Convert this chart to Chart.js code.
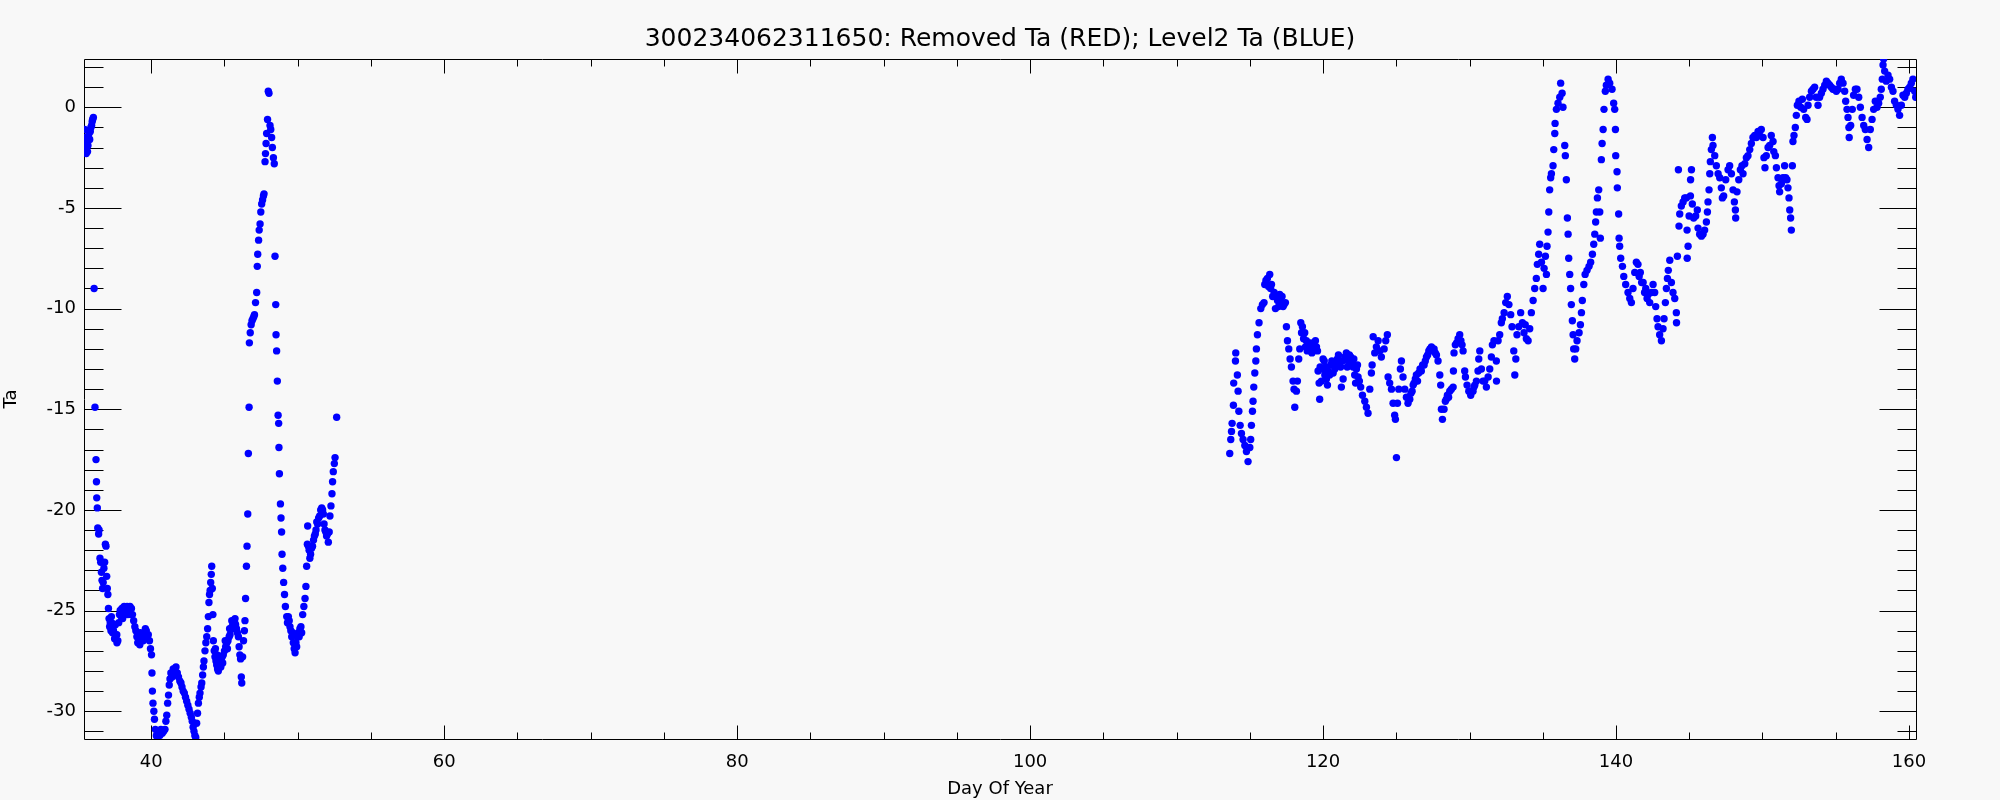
<!DOCTYPE html>
<html>
<head>
<meta charset="utf-8">
<script src="https://cdn.jsdelivr.net/npm/chart.js@4.4.1/dist/chart.umd.min.js"></script>
<style>
  html, body { margin: 0; padding: 0; background: #f8f8f8; }
  canvas { display: block; }
</style>
</head>
<body>
<canvas id="taChart" width="2000" height="800"></canvas>
<script>
// Level2 Ta readings, [day of year, Ta]
const level2Early = [
  [35.45,-1.1],[35.48,-1.8],[35.5,-2.1],[35.53,-1.5],[35.56,-2.3],[35.59,-2.0],[35.62,-1.6],[35.65,-2.2],
  [35.68,-1.9],[35.72,-1.5],[35.75,-1.3],[35.8,-1.6],[35.84,-1.2],[35.88,-1.0],[35.93,-0.9],[35.97,-0.7],
  [36.0,-0.6],[36.05,-0.5],[36.1,-9.0],[36.16,-14.9],[36.23,-17.5],[36.26,-18.6],[36.28,-19.4],[36.32,-19.9],
  [36.35,-20.9],[36.41,-21.2],[36.44,-21.0],[36.5,-22.4],[36.55,-22.6],[36.6,-23.1],[36.64,-23.5],[36.68,-23.9],
  [36.72,-23.6],[36.77,-22.9],[36.82,-22.6],[36.87,-21.7],[36.91,-21.8],[36.96,-23.3],[37.0,-23.9],[37.04,-24.2],
  [37.08,-24.9],[37.12,-25.4],[37.16,-25.8],[37.2,-25.6],[37.25,-26.0],[37.28,-25.3],[37.3,-25.6],[37.36,-26.1],
  [37.4,-25.8],[37.42,-26.0],[37.5,-26.4],[37.55,-25.7],[37.58,-26.2],[37.65,-26.2],[37.66,-26.6],[37.72,-26.5],
  [37.78,-25.6],[37.83,-25.2],[37.88,-25.0],[37.95,-25.3],[38.0,-24.9],[38.05,-25.4],[38.08,-25.1],[38.15,-24.8],
  [38.2,-25.2],[38.25,-25.0],[38.3,-25.1],[38.35,-24.8],[38.4,-25.2],[38.45,-24.9],[38.5,-25.0],[38.55,-24.8],
  [38.6,-25.2],[38.65,-24.9],[38.72,-25.2],[38.8,-25.5],[38.88,-25.8],[38.95,-26.0],[39.02,-26.3],[39.08,-26.6],
  [39.12,-26.2],[39.15,-26.4],[39.22,-26.7],[39.26,-26.1],[39.3,-26.4],[39.38,-26.2],[39.45,-26.5],[39.52,-26.1],
  [39.6,-25.9],[39.66,-26.0],[39.72,-26.3],[39.8,-26.2],[39.88,-26.5],[39.95,-26.9],[40.02,-27.2],[40.05,-28.1],
  [40.08,-29.0],[40.12,-29.6],[40.18,-30.0],[40.22,-30.4],[40.28,-30.9],[40.35,-31.2],[40.42,-31.3],[40.5,-31.0],
  [40.58,-31.2],[40.66,-30.9],[40.75,-31.1],[40.85,-31.0],[40.94,-30.9],[41.0,-30.5],[41.06,-30.2],[41.12,-29.6],
  [41.18,-29.2],[41.23,-28.7],[41.28,-28.4],[41.34,-28.1],[41.42,-28.3],[41.5,-27.9],[41.6,-27.9],[41.69,-27.8],
  [41.78,-28.1],[41.86,-28.3],[41.95,-28.5],[42.03,-28.6],[42.1,-28.8],[42.18,-29.0],[42.26,-29.1],[42.34,-29.3],
  [42.42,-29.5],[42.5,-29.7],[42.58,-29.9],[42.66,-30.1],[42.74,-30.3],[42.8,-30.5],[42.86,-30.8],[42.92,-31.0],
  [42.98,-31.2],[43.04,-31.3],[43.1,-30.6],[43.16,-30.1],[43.22,-29.6],[43.28,-29.3],[43.33,-29.1],[43.4,-28.8],
  [43.45,-28.6],[43.51,-28.2],[43.56,-27.8],[43.6,-27.5],[43.67,-27.0],[43.73,-26.6],[43.79,-26.3],[43.85,-25.9],
  [43.9,-25.3],[43.94,-24.6],[43.98,-24.2],[44.02,-24.0],[44.06,-23.6],[44.1,-23.2],[44.13,-22.8],[44.17,-23.9],
  [44.21,-25.2],[44.24,-26.5],[44.3,-27.0],[44.35,-27.3],[44.38,-26.9],[44.42,-27.5],[44.47,-27.7],[44.5,-27.2],
  [44.53,-27.9],[44.58,-28.0],[44.6,-27.5],[44.64,-27.7],[44.7,-27.6],[44.75,-27.8],[44.78,-27.4],[44.85,-27.3],
  [44.88,-27.6],[44.92,-27.2],[45.0,-27.0],[45.05,-26.5],[45.08,-26.8],[45.16,-26.6],[45.2,-26.9],[45.24,-26.5],
  [45.32,-26.3],[45.35,-25.9],[45.38,-26.2],[45.45,-25.9],[45.5,-25.5],[45.52,-25.8],[45.58,-25.6],[45.62,-25.9],
  [45.64,-25.5],[45.7,-25.6],[45.72,-25.4],[45.76,-25.7],[45.82,-25.9],[45.88,-26.1],[45.95,-26.3],[46.0,-26.8],
  [46.05,-27.2],[46.1,-27.4],[46.15,-28.3],[46.18,-28.6],[46.24,-27.3],[46.3,-26.5],[46.36,-26.0],[46.4,-25.5],
  [46.44,-24.4],[46.5,-22.8],[46.54,-21.8],[46.59,-20.2],[46.63,-17.2],[46.68,-14.9],[46.7,-11.7],[46.76,-11.2],
  [46.82,-10.8],[46.88,-10.6],[46.94,-10.5],[47.0,-10.4],[47.05,-10.3],[47.12,-9.7],[47.2,-9.2],[47.24,-7.9],
  [47.27,-7.3],[47.33,-6.6],[47.37,-6.1],[47.43,-5.8],[47.48,-5.2],[47.54,-4.8],[47.6,-4.6],[47.66,-4.4],
  [47.7,-4.3],[47.77,-2.7],[47.8,-2.3],[47.84,-1.8],[47.88,-1.3],[47.94,-0.6],[47.99,0.8],[48.04,0.7],
  [48.11,-0.9],[48.16,-1.1],[48.22,-1.5],[48.27,-2.0],[48.34,-2.5],[48.4,-2.8],[48.45,-7.4],[48.5,-9.8],
  [48.52,-11.3],[48.56,-12.1],[48.61,-13.6],[48.66,-15.3],[48.7,-15.7],[48.72,-16.9],[48.75,-18.2],[48.82,-19.7],
  [48.86,-20.4],[48.9,-21.1],[48.93,-22.2],[48.98,-22.9],[49.04,-23.6],[49.1,-24.2],[49.16,-24.8],[49.25,-25.3],
  [49.3,-25.6],[49.36,-25.3],[49.42,-25.5],[49.47,-25.8],[49.53,-26.0],[49.59,-26.3],[49.65,-26.1],[49.7,-26.6],
  [49.76,-26.9],[49.82,-27.1],[49.88,-26.6],[49.93,-26.8],[49.98,-26.3],[50.04,-26.1],[50.1,-26.3],[50.15,-25.9],
  [50.22,-25.8],[50.27,-26.1],[50.34,-25.2],[50.42,-24.8],[50.5,-24.4],[50.56,-23.8],[50.61,-22.8],[50.66,-21.7],
  [50.68,-20.8],[50.73,-21.8],[50.78,-22.0],[50.83,-22.4],[50.88,-22.2],[50.95,-21.9],[51.01,-21.8],[51.08,-21.5],
  [51.14,-21.3],[51.2,-21.2],[51.25,-21.0],[51.3,-20.6],[51.36,-20.7],[51.43,-20.4],[51.5,-20.3],[51.57,-20.0],
  [51.64,-19.9],[51.7,-20.0],[51.75,-20.2],[51.8,-20.7],[51.86,-21.0],[51.92,-21.1],[51.97,-21.3],[52.03,-21.2],
  [52.09,-21.6],[52.15,-21.1],[52.2,-20.3],[52.27,-19.8],[52.34,-19.2],[52.38,-18.6],[52.43,-18.1],[52.5,-17.7],
  [52.55,-17.4],[52.66,-15.4]
];

const level2Late = [
  [113.63,-17.2],[113.7,-16.5],[113.75,-16.1],[113.79,-15.7],[113.88,-14.8],[113.9,-13.7],[114.02,-12.6],[114.04,-12.2],
  [114.15,-13.3],[114.2,-14.1],[114.25,-15.1],[114.34,-15.8],[114.43,-16.2],[114.54,-16.5],[114.66,-16.8],[114.77,-17.1],
  [114.88,-17.6],[115.0,-16.9],[115.06,-16.5],[115.11,-15.8],[115.18,-15.1],[115.22,-14.6],[115.27,-13.9],[115.34,-13.2],
  [115.41,-12.6],[115.45,-12.0],[115.52,-11.3],[115.63,-10.7],[115.75,-10.0],[115.86,-9.8],[115.97,-9.7],[116.02,-8.8],
  [116.1,-8.6],[116.2,-8.5],[116.28,-8.9],[116.36,-8.3],[116.42,-9.0],[116.48,-8.8],[116.56,-9.4],[116.66,-9.2],
  [116.75,-10.0],[116.82,-9.4],[116.89,-9.6],[116.96,-9.9],[117.04,-9.3],[117.12,-9.7],[117.2,-9.4],[117.27,-9.9],
  [117.34,-9.8],[117.43,-9.7],[117.5,-10.9],[117.57,-11.6],[117.66,-12.0],[117.75,-12.5],[117.84,-12.9],[117.95,-13.6],
  [118.02,-14.0],[118.07,-14.9],[118.18,-14.1],[118.25,-13.6],[118.34,-12.5],[118.41,-12.0],[118.48,-10.7],[118.53,-11.2],
  [118.59,-10.9],[118.67,-11.5],[118.75,-11.2],[118.8,-11.9],[118.86,-11.6],[118.92,-12.1],[118.98,-11.8],[119.07,-11.9],
  [119.16,-11.7],[119.24,-12.2],[119.32,-11.9],[119.4,-12.0],[119.48,-11.6],[119.55,-11.9],[119.62,-12.1],[119.66,-13.1],
  [119.73,-13.7],[119.77,-14.5],[119.8,-12.9],[119.89,-13.6],[119.95,-13.0],[120.0,-12.5],[120.08,-12.6],[120.12,-13.3],
  [120.18,-12.9],[120.23,-13.5],[120.3,-13.8],[120.34,-13.1],[120.45,-13.3],[120.53,-12.8],[120.6,-12.6],[120.69,-13.2],
  [120.75,-12.7],[120.8,-13.0],[120.9,-12.8],[120.98,-12.5],[121.05,-12.3],[121.14,-12.7],[121.2,-12.9],[121.25,-13.9],
  [121.32,-12.6],[121.37,-13.5],[121.48,-12.4],[121.59,-12.2],[121.65,-12.9],[121.71,-12.6],[121.8,-12.3],[121.89,-12.4],
  [121.95,-12.7],[122.05,-12.9],[122.1,-12.5],[122.16,-13.3],[122.22,-13.7],[122.28,-13.0],[122.35,-12.8],[122.39,-13.4],
  [122.48,-13.6],[122.57,-13.9],[122.69,-14.3],[122.85,-14.6],[122.96,-14.9],[123.07,-15.2],[123.19,-14.0],[123.3,-13.2],
  [123.35,-12.8],[123.42,-11.4],[123.53,-12.2],[123.64,-11.9],[123.76,-11.6],[123.87,-12.1],[123.98,-12.4],[124.17,-12.0],
  [124.28,-11.6],[124.39,-11.3],[124.44,-13.4],[124.55,-13.7],[124.67,-14.0],[124.78,-14.7],[124.89,-15.3],[124.94,-15.5],
  [125.01,-17.4],[125.08,-14.7],[125.17,-14.0],[125.28,-13.0],[125.35,-12.6],[125.46,-13.4],[125.58,-14.0],[125.69,-14.4],
  [125.8,-14.7],[125.92,-14.5],[126.0,-14.2],[126.08,-14.1],[126.15,-13.8],[126.21,-13.7],[126.3,-13.5],[126.37,-13.3],
  [126.45,-13.6],[126.53,-13.2],[126.62,-13.0],[126.71,-13.1],[126.8,-12.8],[126.9,-12.8],[126.98,-12.6],[127.06,-12.4],
  [127.14,-12.3],[127.22,-12.1],[127.3,-12.0],[127.4,-11.9],[127.5,-12.1],[127.58,-12.0],[127.66,-12.2],[127.74,-12.3],
  [127.85,-12.6],[127.97,-13.3],[128.03,-13.8],[128.08,-15.0],[128.15,-15.5],[128.26,-15.0],[128.35,-14.6],[128.42,-14.5],
  [128.49,-14.3],[128.57,-14.4],[128.65,-14.1],[128.76,-14.0],[128.88,-13.9],[128.9,-13.1],[128.94,-12.2],[129.03,-11.8],
  [129.12,-11.7],[129.22,-11.5],[129.33,-11.3],[129.41,-11.6],[129.49,-11.8],[129.56,-12.1],[129.67,-13.1],[129.72,-13.4],
  [129.83,-13.8],[129.95,-14.1],[130.08,-14.3],[130.16,-14.1],[130.24,-14.1],[130.3,-13.9],[130.36,-13.8],[130.47,-13.6],
  [130.58,-13.1],[130.63,-12.5],[130.7,-12.1],[130.81,-13.0],[130.92,-13.6],[131.04,-13.6],[131.15,-13.9],[131.27,-13.4],
  [131.38,-13.0],[131.49,-12.4],[131.56,-11.8],[131.67,-11.6],[131.83,-12.6],[131.84,-13.6],[131.95,-11.6],[132.06,-11.3],
  [132.17,-10.7],[132.24,-10.5],[132.36,-10.2],[132.47,-9.7],[132.58,-9.4],[132.69,-9.8],[132.81,-10.3],[132.9,-10.9],
  [133.02,-12.1],[133.09,-13.3],[133.16,-12.5],[133.24,-11.3],[133.36,-10.9],[133.49,-10.2],[133.61,-10.7],[133.72,-11.2],
  [133.8,-10.8],[133.88,-11.5],[134.0,-11.6],[134.11,-11.0],[134.22,-10.2],[134.34,-9.6],[134.45,-9.0],[134.56,-8.5],
  [134.63,-7.8],[134.72,-7.3],[134.79,-6.8],[134.91,-7.7],[135.02,-9.0],[135.09,-8.0],[135.18,-7.4],[135.25,-8.3],
  [135.29,-6.9],[135.36,-6.2],[135.41,-5.2],[135.47,-4.1],[135.54,-3.5],[135.59,-3.3],[135.7,-2.9],[135.75,-2.1],
  [135.82,-1.3],[135.84,-0.8],[135.93,-0.1],[136.04,0.2],[136.16,0.5],[136.22,1.2],[136.32,0.7],[136.38,0.0],
  [136.5,-1.9],[136.54,-2.4],[136.61,-3.6],[136.68,-5.5],[136.73,-6.3],[136.77,-7.5],[136.84,-8.3],[136.9,-9.0],
  [136.95,-9.8],[137.02,-10.6],[137.07,-11.3],[137.11,-12.0],[137.18,-12.5],[137.25,-12.0],[137.34,-11.6],[137.48,-11.2],
  [137.57,-10.8],[137.64,-10.2],[137.7,-9.6],[137.8,-8.8],[137.89,-8.3],[138.02,-8.1],[138.16,-7.9],[138.27,-7.7],
  [138.39,-7.3],[138.48,-6.8],[138.55,-6.3],[138.61,-5.7],[138.66,-5.2],[138.73,-4.5],[138.82,-4.1],[138.89,-5.2],
  [138.93,-6.5],[139.0,-2.6],[139.05,-1.8],[139.12,-1.1],[139.18,-0.1],[139.27,0.8],[139.34,1.1],[139.46,1.4],
  [139.57,1.2],[139.73,0.9],[139.84,0.2],[139.91,-0.1],[139.96,-1.1],[139.98,-2.4],[140.07,-3.2],[140.09,-4.0],
  [140.18,-5.3],[140.21,-6.5],[140.25,-6.9],[140.32,-7.5],[140.44,-7.9],[140.53,-8.4],[140.66,-8.8],[140.82,-9.2],
  [140.94,-9.5],[141.05,-9.7],[141.16,-9.0],[141.28,-8.2],[141.39,-7.7],[141.5,-7.8],[141.58,-8.4],[141.66,-8.2],
  [141.75,-8.7],[141.85,-8.7],[141.95,-9.2],[142.03,-9.0],[142.12,-9.5],[142.19,-9.3],[142.3,-9.7],[142.41,-9.2],
  [142.53,-8.8],[142.64,-9.2],[142.71,-9.9],[142.8,-10.5],[142.87,-10.9],[142.98,-11.3],[143.1,-11.6],[143.21,-11.0],
  [143.28,-10.5],[143.37,-9.7],[143.44,-9.0],[143.51,-8.5],[143.57,-8.1],[143.67,-7.6],[143.78,-8.7],[143.89,-9.2],
  [144.01,-9.5],[144.12,-10.2],[144.13,-10.7],[144.19,-7.4],[144.26,-3.1],[144.3,-5.9],[144.35,-5.3],[144.46,-4.9],
  [144.58,-4.7],[144.69,-4.5],[144.8,-4.5],[144.85,-6.1],[144.86,-7.5],[144.92,-6.9],[144.99,-5.4],[145.08,-4.4],
  [145.09,-3.6],[145.15,-3.1],[145.21,-4.8],[145.3,-5.5],[145.44,-5.4],[145.55,-5.1],[145.6,-6.0],[145.71,-6.3],
  [145.83,-6.4],[145.94,-6.3],[146.05,-6.1],[146.17,-5.7],[146.24,-5.2],[146.28,-4.7],[146.35,-4.1],[146.4,-3.3],
  [146.44,-2.7],[146.51,-2.1],[146.58,-1.5],[146.62,-1.9],[146.74,-2.4],[146.85,-2.9],[146.97,-3.3],[147.08,-3.5],
  [147.19,-4.0],[147.26,-4.5],[147.35,-4.4],[147.49,-3.6],[147.65,-3.1],[147.76,-2.9],[147.88,-3.3],[147.99,-4.1],
  [148.08,-4.7],[148.15,-5.1],[148.17,-5.5],[148.26,-4.2],[148.38,-3.6],[148.49,-3.1],[148.6,-2.9],[148.67,-3.3],
  [148.79,-2.8],[148.9,-2.5],[149.01,-2.4],[149.13,-2.1],[149.24,-1.8],[149.35,-1.5],[149.47,-1.4],[149.58,-1.5],
  [149.7,-1.2],[149.81,-1.4],[149.92,-1.1],[150.04,-1.5],[150.1,-2.5],[150.17,-3.0],[150.26,-2.4],[150.38,-2.0],
  [150.49,-1.9],[150.6,-1.4],[150.72,-1.7],[150.77,-2.2],[150.88,-2.4],[150.95,-3.0],[151.06,-3.5],[151.13,-3.9],
  [151.17,-4.2],[151.29,-3.8],[151.4,-3.5],[151.51,-2.9],[151.58,-3.5],[151.67,-3.6],[151.74,-4.0],[151.81,-4.5],
  [151.86,-5.1],[151.92,-5.5],[151.97,-6.1],[152.04,-2.9],[152.08,-1.7],[152.15,-1.4],[152.24,-1.0],[152.31,-0.4],
  [152.38,0.1],[152.49,0.3],[152.61,0.0],[152.72,0.4],[152.81,-0.1],[152.95,-0.5],[153.04,-0.6],[153.11,0.1],
  [153.22,0.5],[153.34,0.8],[153.45,0.9],[153.56,1.0],[153.67,0.5],[153.79,0.1],[153.9,0.5],[154.02,0.7],
  [154.13,0.9],[154.25,1.1],[154.36,1.3],[154.47,1.2],[154.59,1.1],[154.7,1.0],[154.81,0.9],[154.93,0.9],
  [155.04,0.8],[155.16,0.9],[155.27,1.2],[155.38,1.4],[155.5,1.2],[155.61,0.8],[155.68,0.3],[155.77,-0.1],
  [155.84,-0.5],[155.9,-1.0],[155.92,-1.5],[156.02,-0.9],[156.13,-0.1],[156.22,0.6],[156.34,0.9],[156.45,0.9],
  [156.57,0.5],[156.68,0.0],[156.8,-0.5],[156.91,-0.9],[157.02,-1.1],[157.14,-1.6],[157.25,-2.0],[157.36,-1.1],
  [157.48,-0.6],[157.59,-0.1],[157.7,0.3],[157.82,0.0],[157.93,0.2],[158.04,0.5],[158.11,0.9],[158.18,1.4],
  [158.23,2.1],[158.27,2.4],[158.34,1.8],[158.45,1.3],[158.57,1.6],[158.68,1.4],[158.8,1.0],[158.91,0.8],
  [159.02,0.3],[159.14,0.1],[159.25,-0.1],[159.36,-0.4],[159.48,0.1],[159.59,0.6],[159.71,0.5],[159.82,0.7],
  [159.93,0.9],[160.05,1.0],[160.16,1.2],[160.27,1.4],[160.39,0.8],[160.46,0.5]
];

// axis ranges and tick marks
const dayRange = [35.41, 160.48];
const taRange = [-31.38, 2.4];
const dayMajorTicks = [40, 60, 80, 100, 120, 140, 160];
const dayMinorStep = 5;
const taMajorTicks = [-30, -25, -20, -15, -10, -5, 0];
const taMinorStep = 1;

const titleText = "300234062311650: Removed Ta (RED); Level2 Ta (BLUE)";
const fontFamily = "'DejaVu Sans', sans-serif";

const background = {
  id: "background",
  beforeDraw(chart) {
    const { ctx, width, height } = chart;
    ctx.save();
    ctx.fillStyle = "#f8f8f8";
    ctx.fillRect(0, 0, width, height);
    ctx.restore();
  },
};

// IDL-style frame: box plus inward ticks on all four sides
const frameTicks = {
  id: "frameTicks",
  beforeDatasetsDraw(chart) {
    const { ctx, chartArea: a, scales } = chart;
    const xs = scales.x;
    const ys = scales.y;
    ctx.save();
    ctx.strokeStyle = "#000";
    ctx.lineWidth = 1;
    ctx.beginPath();
    ctx.rect(Math.round(a.left) + 0.5, Math.round(a.top) + 0.5,
      Math.round(a.right - a.left), Math.round(a.bottom - a.top));

    const top = Math.round(a.top) + 0.5;
    const bottom = Math.round(a.bottom) + 0.5;
    const left = Math.round(a.left) + 0.5;
    const right = Math.round(a.right) + 0.5;

    for (let v = Math.ceil(dayRange[0] / dayMinorStep) * dayMinorStep; v <= dayRange[1]; v += dayMinorStep) {
      const len = dayMajorTicks.includes(v) ? 14 : 7;
      const px = Math.round(xs.getPixelForValue(v)) + 0.5;
      ctx.moveTo(px, bottom);
      ctx.lineTo(px, bottom - len);
      ctx.moveTo(px, top);
      ctx.lineTo(px, top + len);
    }
    for (let v = Math.ceil(taRange[0] / taMinorStep) * taMinorStep; v <= taRange[1]; v += taMinorStep) {
      const len = taMajorTicks.includes(v) ? 37 : 19;
      const py = Math.round(ys.getPixelForValue(v)) + 0.5;
      ctx.moveTo(left, py);
      ctx.lineTo(left + len, py);
      ctx.moveTo(right, py);
      ctx.lineTo(right - len, py);
    }
    ctx.stroke();
    ctx.restore();
  },
};

const points = level2Early.concat(level2Late).map(([d, t]) => ({ x: d, y: t }));

const chart = new Chart(document.getElementById("taChart"), {
  type: "scatter",
  data: {
    datasets: [
      {
        label: "Level2 Ta",
        data: points,
        pointRadius: 3.7,
        pointBorderWidth: 0,
        pointBackgroundColor: "#0000ff",
        borderColor: "#0000ff",
        showLine: false,
      },
    ],
  },
  options: {
    responsive: false,
    animation: false,
    devicePixelRatio: 1,
    layout: { padding: { left: 0, right: 84, top: 0, bottom: 0 } },
    plugins: {
      legend: { display: false },
      tooltip: { enabled: false },
      title: {
        display: true,
        fullSize: false,
        text: titleText,
        color: "#000",
        font: { family: fontFamily, size: 25, weight: "normal", lineHeight: 1.2 },
        padding: { top: 24, bottom: 5 },
      },
    },
    scales: {
      x: {
        type: "linear",
        min: dayRange[0],
        max: dayRange[1],
        afterFit: (s) => { s.height = 61; },
        grid: { display: false, drawTicks: false },
        border: { display: false },
        ticks: {
          stepSize: 20,
          includeBounds: false,
          padding: 13,
          maxRotation: 0,
          color: "#000",
          font: { family: fontFamily, size: 18 },
        },
        title: {
          display: true,
          text: "Day Of Year",
          color: "#000",
          font: { family: fontFamily, size: 18 },
          padding: { top: 0, bottom: 0 },
        },
      },
      y: {
        type: "linear",
        min: taRange[0],
        max: taRange[1],
        afterFit: (s) => { s.width = 84; },
        grid: { display: false, drawTicks: false },
        border: { display: false },
        ticks: {
          stepSize: 5,
          includeBounds: false,
          padding: 8,
          color: "#000",
          font: { family: fontFamily, size: 18 },
        },
        title: {
          display: true,
          text: "Ta",
          color: "#000",
          font: { family: fontFamily, size: 18 },
          padding: { top: 1, bottom: 0 },
        },
      },
    },
  },
  plugins: [background, frameTicks],
});
</script>
</body>
</html>
